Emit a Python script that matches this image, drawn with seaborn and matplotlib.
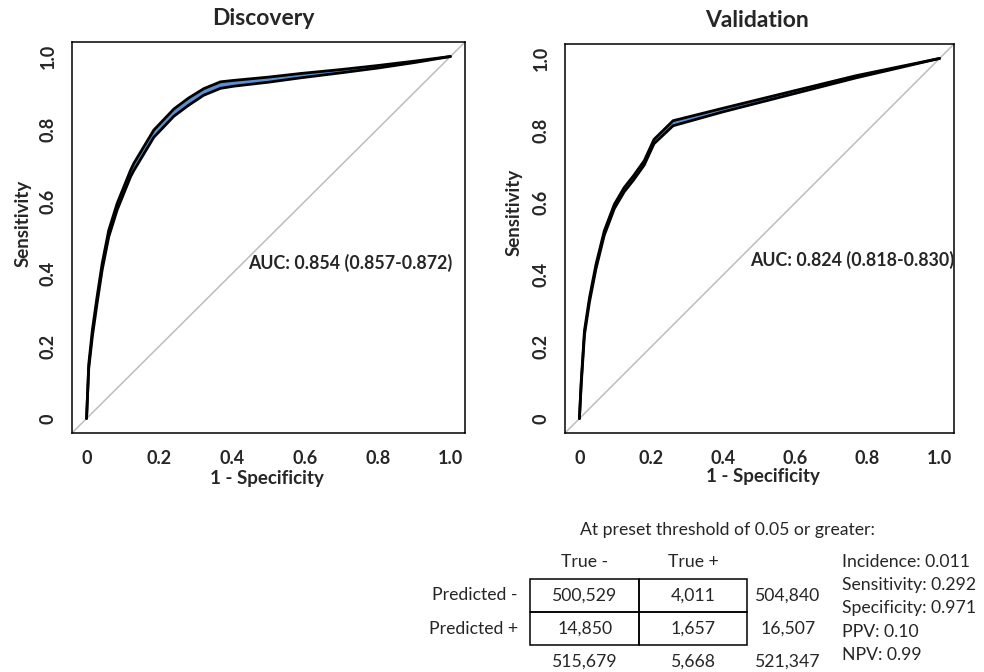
import numpy as np
import pandas as pd
import seaborn as sns
import matplotlib
matplotlib.use("Agg")
from matplotlib import pyplot as plt
from matplotlib.patches import Rectangle

# ROC data
disc_fpr = [0, 0.006, 0.016, 0.029, 0.043, 0.061, 0.084, 0.121, 0.13, 0.185, 0.24, 0.28, 0.322,
            0.368, 0.405, 0.5, 0.588, 0.7, 0.8, 0.9, 1.0]
disc_tpr = [0, 0.144, 0.236, 0.328, 0.42, 0.511, 0.585, 0.677, 0.695, 0.787, 0.845, 0.875, 0.902,
            0.922, 0.927, 0.937, 0.948, 0.96, 0.972, 0.985, 1.0]
disc_hi = [0, 0.15, 0.245, 0.337, 0.429, 0.52, 0.594, 0.686, 0.705, 0.797, 0.855, 0.885, 0.911,
           0.93, 0.934, 0.943, 0.953, 0.964, 0.975, 0.987, 1.0]
disc_lo = [0, 0.138, 0.227, 0.319, 0.411, 0.502, 0.576, 0.668, 0.685, 0.777, 0.835, 0.865, 0.893,
           0.912, 0.918, 0.929, 0.941, 0.955, 0.968, 0.983, 1.0]

val_fpr = [0, 0.005, 0.014, 0.028, 0.046, 0.069, 0.097, 0.124, 0.15, 0.18, 0.207, 0.26, 0.4, 0.584, 0.768, 1.0]
val_tpr = [0, 0.099, 0.238, 0.33, 0.422, 0.515, 0.589, 0.635, 0.668, 0.71, 0.769, 0.82, 0.857, 0.903, 0.949, 1.0]
val_hi = [0, 0.104, 0.244, 0.336, 0.428, 0.521, 0.595, 0.641, 0.674, 0.716, 0.775, 0.827, 0.862, 0.907, 0.952, 1.0]
val_lo = [0, 0.094, 0.232, 0.324, 0.416, 0.509, 0.583, 0.629, 0.662, 0.704, 0.763, 0.813, 0.852, 0.899, 0.946, 1.0]

panel_titles = ["Discovery", "Validation"]
auc_labels = ["AUC: 0.854 (0.857-0.872)", "AUC: 0.824 (0.818-0.830)"]
auc_pos = [(0.445, 0.43), (0.474, 0.44)]
ticks = [0, 0.2, 0.4, 0.6, 0.8, 1.0]
tick_labels = ["0", "0.2", "0.4", "0.6", "0.8", "1.0"]

# confusion table
table_title = "At preset threshold of 0.05 or greater:"
col_heads = ["True -", "True +"]
row_heads = ["Predicted -", "Predicted +"]
cells = [["500,529", "4,011"], ["14,850", "1,657"]]
row_totals = ["504,840", "16,507"]
col_totals = ["515,679", "5,668", "521,347"]
stats = ["Incidence: 0.011", "Sensitivity: 0.292", "Specificity: 0.971", "PPV: 0.10", "NPV: 0.99"]

sns.set_style("white")
plt.rcParams['font.family'] = ['Lato', 'DejaVu Sans']

fig = plt.figure(figsize=(9.84, 6.72), dpi=100)
W, H = 984, 672
boxes = [(72, 42, 465, 433), (565, 44, 954, 433)]
curves = [(disc_fpr, disc_tpr, disc_lo, disc_hi), (val_fpr, val_tpr, val_lo, val_hi)]
ylab_xy = [(-0.102, 0.535), (-0.11, 0.568)]
xlab_xy = [(0.497, -0.095), (0.51, -0.09)]
title_x = [0.486, 0.494]

for i, (x0, y0, x1, y1) in enumerate(boxes):
    ax = fig.add_axes([x0 / W, 1 - y1 / H, (x1 - x0) / W, (y1 - y0) / H])
    fpr, tpr, lo, hi = curves[i]
    ax.plot([-0.04, 1.04], [-0.04, 1.04], color='#bdbdbd', lw=1.1, zorder=1)
    ax.fill_between(fpr, lo, hi, color='#5b8fd0', lw=0, zorder=2)
    df_lo = pd.DataFrame({'fpr': fpr, 'tpr': lo})
    df_hi = pd.DataFrame({'fpr': fpr, 'tpr': hi})
    sns.lineplot(data=df_lo, x='fpr', y='tpr', color='black', lw=2.0, sort=False, ax=ax, zorder=3)
    sns.lineplot(data=df_hi, x='fpr', y='tpr', color='black', lw=2.0, sort=False, ax=ax, zorder=3)
    ax.set_xlim(-0.04, 1.04)
    ax.set_ylim(-0.04, 1.04)
    ax.set_xticks(ticks)
    ax.set_yticks(ticks)
    ax.set_xticklabels(tick_labels, fontsize=13, fontweight='bold')
    ax.set_yticklabels(tick_labels, fontsize=13, fontweight='bold', rotation=90, va='center')
    ax.tick_params(direction='out', length=7, width=1.1, color='black', pad=4)
    ax.tick_params(axis='x', pad=5)
    for s in ax.spines.values():
        s.set_color('black')
        s.set_linewidth(1.1)
    ax.set_xlabel("1 - Specificity", fontsize=13.5, fontweight='bold')
    ax.set_ylabel("Sensitivity", fontsize=13.5, fontweight='bold')
    ax.yaxis.set_label_coords(*ylab_xy[i])
    ax.xaxis.set_label_coords(*xlab_xy[i])
    ax.set_title(panel_titles[i], fontsize=16.5, fontweight='bold', pad=12, x=title_x[i])
    ax.text(auc_pos[i][0], auc_pos[i][1], auc_labels[i], fontsize=12.8, fontweight='bold',
            va='center', ha='left', zorder=4)

# table drawn on an overlay axes in pixel units
tax = fig.add_axes([0, 0, 1, 1])
tax.set_xlim(0, W)
tax.set_ylim(H, 0)
tax.axis('off')
fs = 12.7
tax.text(727, 530, table_title, fontsize=fs, ha='center', va='center')
col_x = [585, 693, 788]
for j, h in enumerate(col_heads):
    tax.text(col_x[j], 562, h, fontsize=fs, ha='center', va='center')
row_y = [595.5, 628.5]
grid_x = [530, 639, 747]
grid_y = [579, 612, 645]
for r in range(2):
    tax.add_patch(Rectangle((grid_x[0], grid_y[r]), grid_x[1] - grid_x[0], grid_y[r + 1] - grid_y[r],
                            fill=False, ec='black', lw=1.1))
    tax.add_patch(Rectangle((grid_x[1], grid_y[r]), grid_x[2] - grid_x[1], grid_y[r + 1] - grid_y[r],
                            fill=False, ec='black', lw=1.1))
    tax.text(518, row_y[r], row_heads[r], fontsize=fs, ha='right', va='center')
    for c in range(2):
        tax.text(col_x[c], row_y[r], cells[r][c], fontsize=fs, ha='center', va='center')
    tax.text(col_x[2], row_y[r], row_totals[r], fontsize=fs, ha='center', va='center')
for c in range(3):
    tax.text(col_x[c], 662, col_totals[c], fontsize=fs, ha='center', va='center')
stat_y = [562, 585, 608, 632, 655]
for k, s in enumerate(stats):
    tax.text(842, stat_y[k], s, fontsize=fs, ha='left', va='center')

fig.savefig("out.png", dpi=100)
